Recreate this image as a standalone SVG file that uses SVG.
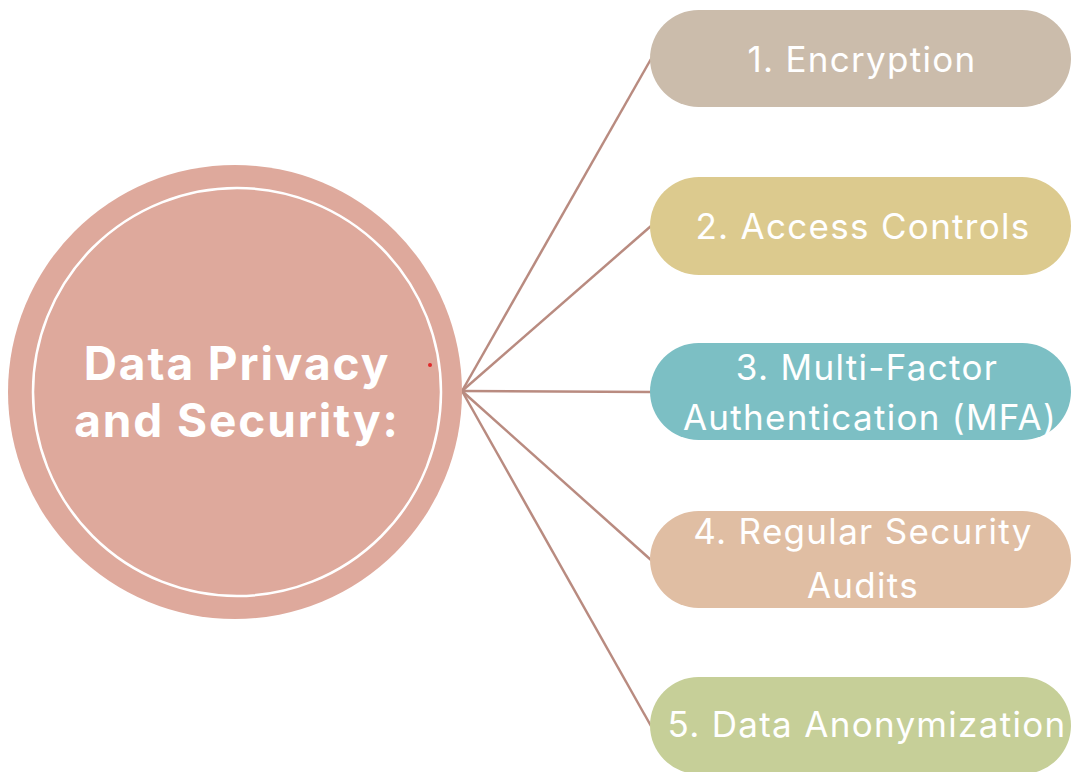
<svg xmlns="http://www.w3.org/2000/svg" width="1071" height="772" viewBox="0 0 1071 772">
  <style>
    .link { stroke: #b98b80; stroke-width: 2.5; fill: none; }
    .pill-text { font-family: Inter, "Open Sans", "Liberation Sans", sans-serif; font-size: 35px; letter-spacing: 1.3px; fill: #ffffff; text-anchor: middle; }
    .hub-text { font-family: Inter, "Open Sans", "Liberation Sans", sans-serif; font-size: 46px; letter-spacing: 1.9px; font-weight: bold; fill: #ffffff; text-anchor: middle; }
  </style>
  <rect width="1071" height="772" fill="#ffffff"/>

  <!-- connectors fanning out from the hub -->
  <g id="connectors">
    <line class="link" x1="462" y1="391" x2="651" y2="59"/>
    <line class="link" x1="462" y1="391" x2="651" y2="226"/>
    <line class="link" x1="462" y1="391" x2="651" y2="392"/>
    <line class="link" x1="462" y1="391" x2="651" y2="560"/>
    <line class="link" x1="462" y1="391" x2="651" y2="726"/>
  </g>

  <!-- central hub -->
  <g id="hub">
    <circle cx="235" cy="392" r="227" fill="#dea99c"/>
    <circle cx="237" cy="392" r="204" fill="none" stroke="#ffffff" stroke-width="2.5"/>
    <text class="hub-text" x="237" y="380">Data Privacy</text>
    <text class="hub-text" x="237" y="437">and Security:</text>
    <circle cx="430" cy="365" r="2" fill="#e0282a"/>
  </g>

  <g id="encryption">
    <rect x="650" y="10" width="421" height="97" rx="48.5" fill="#cbbcab"/>
    <text class="pill-text" x="862" y="72">1. Encryption</text>
  </g>

  <g id="access-controls">
    <rect x="650" y="177" width="421" height="98" rx="49" fill="#dcca8e"/>
    <text class="pill-text" x="863" y="239">2. Access Controls</text>
  </g>

  <g id="mfa">
    <rect x="650" y="343" width="421" height="97" rx="48.5" fill="#7cbfc4"/>
    <text class="pill-text" x="867" y="380">3. Multi-Factor</text>
    <text class="pill-text" x="870" y="430">Authentication (MFA)</text>
  </g>

  <g id="security-audits">
    <rect x="650" y="511" width="421" height="97" rx="48.5" fill="#e0bea3"/>
    <text class="pill-text" x="863" y="544">4. Regular Security</text>
    <text class="pill-text" x="863" y="598">Audits</text>
  </g>

  <g id="anonymization">
    <rect x="650" y="677" width="421" height="97" rx="48.5" fill="#c6cf98"/>
    <text class="pill-text" x="867" y="737">5. Data Anonymization</text>
  </g>
</svg>
